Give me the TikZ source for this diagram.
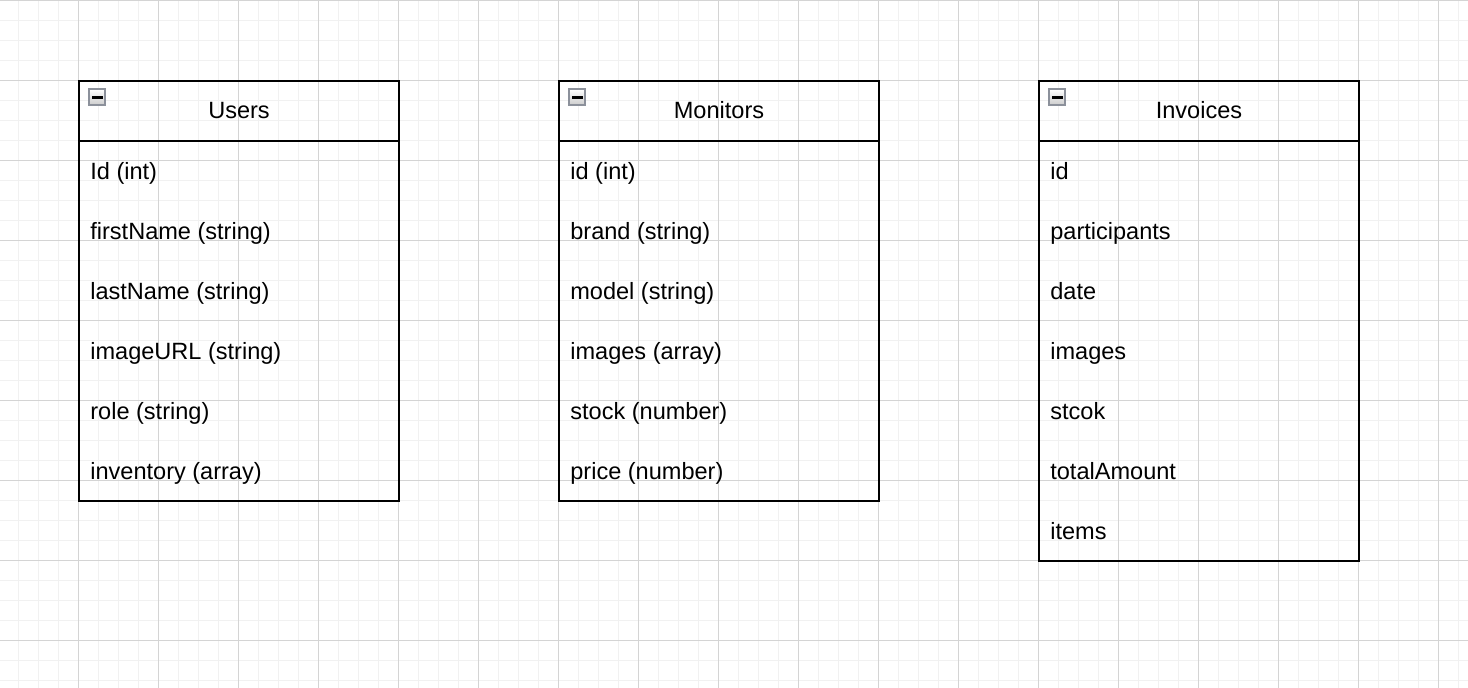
\documentclass[tikz,border=0pt]{standalone}
\usepackage{fontspec}
\setmainfont{Liberation Sans}
\definecolor{minorgrid}{HTML}{F1F1F1}
\definecolor{majorgrid}{HTML}{D4D4D4}
\definecolor{iconedge}{HTML}{8C919B}
\tikzset{
  tablebox/.style={draw=black, line width=1.14pt},
  titletext/.style={anchor=base, inner sep=0pt, font=\fontsize{13.4}{15}\selectfont},
  fieldtext/.style={anchor=base west, inner sep=0pt, font=\fontsize{13.4}{15}\selectfont},
  collapsebox/.style={draw=iconedge, line width=1.1pt, top color=white, bottom color=gray!40}
}

\begin{document}
\begin{tikzpicture}[x=0.02cm, y=-0.02cm]
\useasboundingbox (0,0) rectangle (1468,688);
\fill[white] (0,0) rectangle (1468,688);
% grid
\foreach \x in {18.5,38.5,...,1468} \draw[minorgrid, line width=0.6pt] (\x,0) -- (\x,688);
\foreach \y in {20.5,40.5,...,688} \draw[minorgrid, line width=0.6pt] (0,\y) -- (1468,\y);
\foreach \x in {78.5,158.5,...,1468} \draw[majorgrid, line width=0.6pt] (\x,0) -- (\x,688);
\foreach \y in {0.5,80.5,...,688} \draw[majorgrid, line width=0.6pt] (0,\y) -- (1468,\y);

% Users
\draw[tablebox] (79,81) rectangle (399,501);
\draw[tablebox] (79,141) -- (399,141);
\draw[collapsebox] (89,89) rectangle (105,105);
\fill (91.5,95.8) rectangle (102.5,98.6);
\node[titletext] (users) at (239,118.5) {Users};
\foreach \f [count=\i] in {Id (int), firstName (string), lastName (string), imageURL (string), role (string), inventory (array)}
  \node[fieldtext] (users-\i) at (90,119.5+60*\i) {\f};

% Monitors
\draw[tablebox] (559,81) rectangle (879,501);
\draw[tablebox] (559,141) -- (879,141);
\draw[collapsebox] (569,89) rectangle (585,105);
\fill (571.5,95.8) rectangle (582.5,98.6);
\node[titletext] (monitors) at (719,118.5) {Monitors};
\foreach \f [count=\i] in {id (int), brand (string), model (string), images (array), stock (number), price (number)}
  \node[fieldtext] (monitors-\i) at (570,119.5+60*\i) {\f};

% Invoices
\draw[tablebox] (1039,81) rectangle (1359,561);
\draw[tablebox] (1039,141) -- (1359,141);
\draw[collapsebox] (1049,89) rectangle (1065,105);
\fill (1051.5,95.8) rectangle (1062.5,98.6);
\node[titletext] (invoices) at (1199,118.5) {Invoices};
\foreach \f [count=\i] in {id, participants, date, images, stcok, totalAmount, items}
  \node[fieldtext] (invoices-\i) at (1050,119.5+60*\i) {\f};
\end{tikzpicture}
\end{document}
